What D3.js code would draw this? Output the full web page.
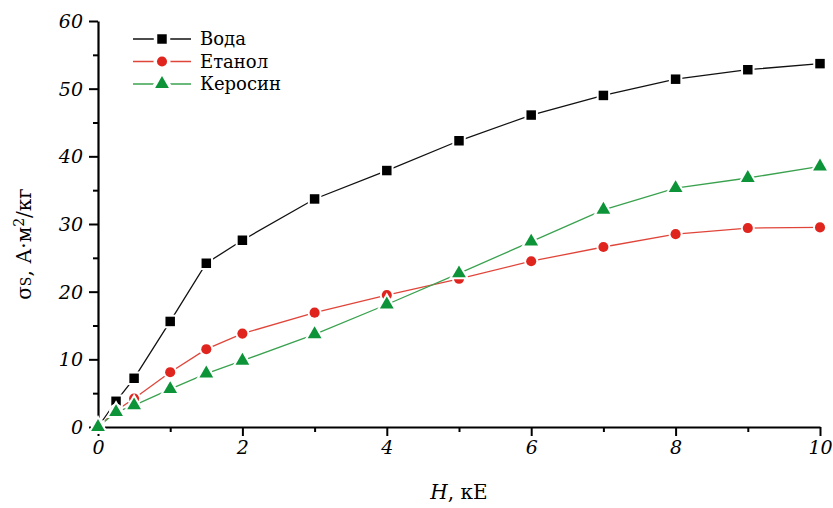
<!DOCTYPE html>
<html lang="uk">
<head>
<meta charset="utf-8">
<title>sigma_s vs H</title>
<script src="https://d3js.org/d3.v7.min.js"></script>
<style>
  body { margin: 0; background: #fff; }
  svg { display: block; }
  .tick text { font-family: "DejaVu Serif", serif; font-style: italic; font-size: 19px; fill: #000; }
  .axis path, .axis line { stroke: #000; }
  .legend text { font-family: "DejaVu Serif", serif; font-size: 18px; fill: #000; }
  .title { font-family: "DejaVu Serif", serif; font-size: 20px; fill: #000; }
</style>
</head>
<body>
<svg id="chart"></svg>
<script>
// field, kOe
const fieldH = [0, 0.25, 0.5, 1, 1.5, 2, 3, 4, 5, 6, 7, 8, 9, 10];
// specific magnetisation, A*m2/kg
const water    = [0, 3.8, 7.2, 15.6, 24.2, 27.6, 33.7, 37.9, 42.3, 46.1, 49.0, 51.4, 52.8, 53.7];
const ethanol  = [0, 2.4, 4.2, 8.1, 11.5, 13.8, 16.9, 19.5, 21.9, 24.5, 26.6, 28.5, 29.4, 29.5];
const kerosene = [0, 2.2, 3.2, 5.6, 7.9, 9.8, 13.7, 18.1, 22.7, 27.4, 32.1, 35.3, 36.8, 38.5];
const seriesNames = ["Вода", "Етанол", "Керосин"];
const xTicks = [0, 2, 4, 6, 8, 10];
const yTicks = [0, 10, 20, 30, 40, 50, 60];

const W = 833, H = 508;
const margin = {top: 21, right: 13, bottom: 81, left: 98};
const width = W - margin.left - margin.right,
      height = H - margin.top - margin.bottom;

const svg = d3.select("#chart").attr("width", W).attr("height", H);
const g = svg.append("g").attr("transform", "translate(" + margin.left + "," + margin.top + ")");

const x = d3.scaleLinear().domain([0, 10]).range([0, width]);
const y = d3.scaleLinear().domain([0, 60]).range([height, 0]);

const series = [
  {name: seriesNames[0], values: water,    color: "#000000", line: "#111111", shape: d3.symbolSquare,   size: 90},
  {name: seriesNames[1], values: ethanol,  color: "#e0251e", line: "#e0453a", shape: d3.symbolCircle,   size: 80},
  {name: seriesNames[2], values: kerosene, color: "#0d9438", line: "#3aa24f", shape: d3.symbolTriangle, size: 82}
];

// minor ticks, short
g.append("g").attr("class", "axis")
  .attr("transform", "translate(0," + height + ")")
  .call(d3.axisBottom(x).tickValues([1, 3, 5, 7, 9]).tickSize(5).tickFormat(""))
  .call(a => a.select(".domain").remove())
  .selectAll("line").attr("stroke-width", 2);
g.append("g").attr("class", "axis")
  .call(d3.axisLeft(y).tickValues([5, 15, 25, 35, 45, 55]).tickSize(5).tickFormat(""))
  .call(a => a.select(".domain").remove())
  .selectAll("line").attr("stroke-width", 2);

// major axes
const xAxis = g.append("g").attr("class", "axis")
  .attr("transform", "translate(0," + height + ")")
  .call(d3.axisBottom(x).tickValues(xTicks).tickSize(9).tickSizeOuter(0).tickPadding(5));
xAxis.select(".domain").attr("stroke-width", 2.2);
xAxis.selectAll("line").attr("stroke-width", 2);

const yAxis = g.append("g").attr("class", "axis")
  .call(d3.axisLeft(y).tickValues(yTicks).tickSize(9).tickSizeOuter(0).tickPadding(6));
yAxis.select(".domain").attr("stroke-width", 2.2);
yAxis.selectAll("line").attr("stroke-width", 2);
yAxis.selectAll(".tick text").attr("dy", "0.35em");

// lines
const line = d3.line().x((d, i) => x(fieldH[i])).y(d => y(d));
series.forEach(s => {
  g.append("path")
    .datum(s.values)
    .attr("fill", "none")
    .attr("stroke", s.line)
    .attr("stroke-width", 1.3)
    .attr("d", line);
});

// markers with white halo to give the gap around each point
series.forEach(s => {
  const sym = d3.symbol().type(s.shape).size(s.size);
  g.append("g").selectAll("path")
    .data(s.values)
    .join("path")
    .attr("transform", (d, i) => "translate(" + x(fieldH[i]) + "," + y(d) + ")")
    .attr("d", sym)
    .attr("fill", s.color)
    .attr("stroke", "#fff")
    .attr("stroke-width", 4)
    .attr("paint-order", "stroke");
});

// legend
const legend = svg.append("g").attr("class", "legend")
  .attr("transform", "translate(133,39)");
series.forEach((s, i) => {
  const row = legend.append("g").attr("transform", "translate(0," + (i * 22.5) + ")");
  row.append("line").attr("x1", 0).attr("x2", 58).attr("y1", 0).attr("y2", 0)
    .attr("stroke", s.line).attr("stroke-width", 1.3);
  row.append("path")
    .attr("transform", "translate(29,0)")
    .attr("d", d3.symbol().type(s.shape).size(s.size)())
    .attr("fill", s.color)
    .attr("stroke", "#fff").attr("stroke-width", 7)
    .attr("paint-order", "stroke");
  row.append("text").attr("x", 67).attr("y", 0).attr("dy", "0.35em").text(s.name);
});

// axis titles
svg.append("text").attr("class", "title")
  .attr("x", margin.left + width / 2).attr("y", 499)
  .attr("text-anchor", "middle")
  .attr("font-size", "22px")
  .html('<tspan font-style="italic">H</tspan>, кЕ');

svg.append("text").attr("class", "title")
  .attr("transform", "translate(31," + (margin.top + height / 2 + 20) + ") rotate(-90)")
  .attr("text-anchor", "middle")
  .html('σ<tspan font-size="14px">S</tspan>, А·м<tspan font-size="14px" dy="-7">2</tspan><tspan dy="7">/кг</tspan>');
</script>
</body>
</html>
